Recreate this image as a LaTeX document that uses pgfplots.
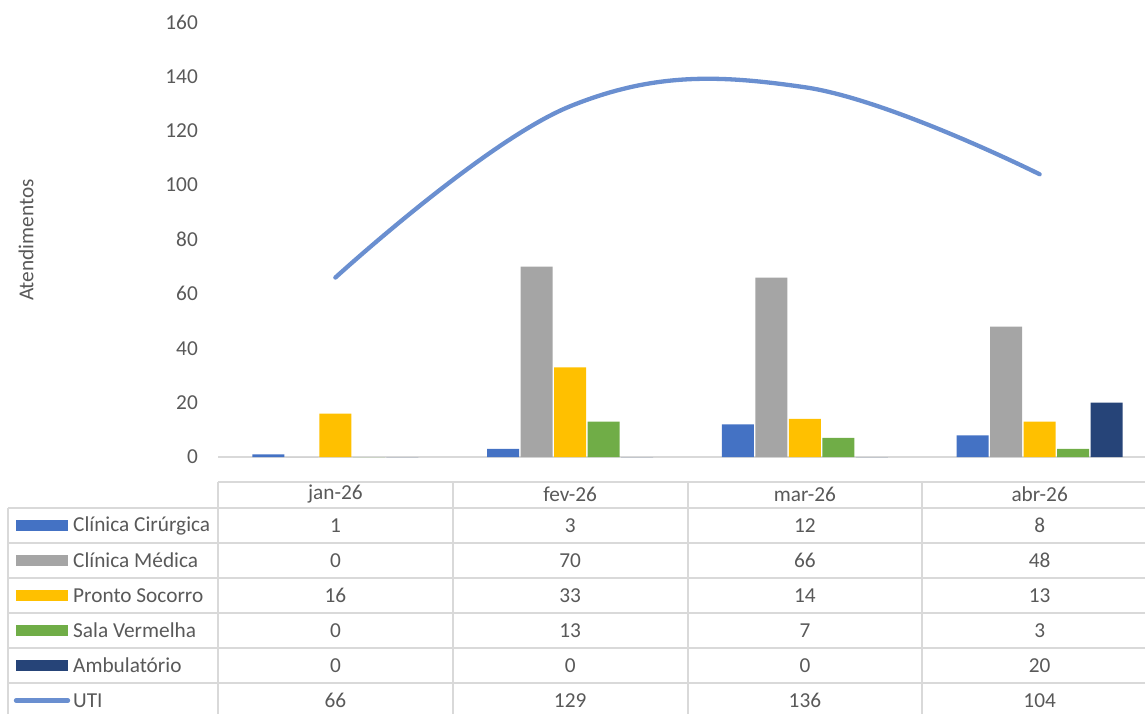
\documentclass[border=0pt]{standalone}
\usepackage{pgfplots}
\pgfplotsset{compat=1.18}
\usepackage{pgfplotstable}
\usepackage{fontspec}
\setmainfont{Carlito}

\definecolor{cBlue}{HTML}{4472C4}
\definecolor{cGray}{HTML}{A5A5A5}
\definecolor{cYellow}{HTML}{FFC000}
\definecolor{cGreen}{HTML}{70AD47}
\definecolor{cNavy}{HTML}{264478}
\definecolor{cLine}{HTML}{6A8FD0}
\definecolor{txt}{HTML}{595959}
\definecolor{gridc}{HTML}{D9D9D9}

\pgfplotstableread{
x cir med ps sv amb uti
0 1 0 16 0 0 66
1 3 70 33 13 0 129
2 12 66 14 7 0 136
3 8 48 13 3 20 104
}\data

\newcommand{\fs}{\fontsize{21.3}{25}\selectfont}

\begin{document}
\begin{tikzpicture}
\useasboundingbox (0pt,0pt) rectangle (1145pt,-714pt);
\begin{axis}[
  at={(218pt,-457pt)}, anchor=south west,
  scale only axis, width=939pt, height=435pt,
  xmin=-0.5, xmax=3.5, ymin=0, ymax=160,
  axis x line*=bottom, axis y line*=left,
  x axis line style={draw=gridc, line width=1.5pt, -},
  y axis line style={draw=none},
  xtick=\empty,
  ytick={0,20,...,160},
  major tick length=0pt,
  /pgf/number format/assume math mode=true,
  yticklabel style={font=\fs, text=txt, inner sep=0pt, xshift=-20pt},
  clip=false,
]
\addplot[ybar, bar width=0.1363, bar shift=-0.2854, fill=cBlue, draw=none] table[x=x,y=cir]{\data};
\addplot[ybar, bar width=0.1363, bar shift=-0.1427, fill=cGray, draw=none] table[x=x,y=med]{\data};
\addplot[ybar, bar width=0.1363, bar shift=0, fill=cYellow, draw=none] table[x=x,y=ps]{\data};
\addplot[ybar, bar width=0.1363, bar shift=0.1427, fill=cGreen, draw=none] table[x=x,y=sv]{\data};
\addplot[ybar, bar width=0.1363, bar shift=0.2854, fill=cNavy, draw=none] table[x=x,y=amb]{\data};
\addplot[cLine, line width=4.3pt, smooth, tension=0.65, line cap=round, line join=round] table[x=x,y=uti]{\data};
\end{axis}

\begin{scope}[x=1pt,y=-1pt]
  \node[rotate=90, font=\fs, text=txt] at (26,240) {Atendimentos};
  % table grid
  \draw[gridc, line width=1.5pt] (218,482) -- (1160,482);
  \foreach \yy in {508,543,578,613,648,683} {
    \draw[gridc, line width=1.5pt] (8,\yy) -- (1160,\yy);
  }
  \draw[gridc, line width=1.5pt] (8,508) -- (8,720);
  \foreach \xx in {218,453,688,922} {
    \draw[gridc, line width=1.5pt] (\xx,482) -- (\xx,720);
  }
  % header
  \foreach \lab [count=\i from 0] in {jan-26,fev-26,mar-26,abr-26} {
    \node[font=\fs, text=txt] at (335.4+234.75*\i,494) {\lab};
  }
  % row names and keys
  \foreach \nm/\cc [count=\r from 0] in {Clínica Cirúrgica/cBlue,Clínica Médica/cGray,Pronto Socorro/cYellow,Sala Vermelha/cGreen,Ambulatório/cNavy} {
    \fill[\cc] (16,525.5+35*\r-5.5) rectangle (68,525.5+35*\r+5.5);
    \node[font=\fs, text=txt, anchor=west, inner sep=0pt] at (73,525.5+35*\r) {\nm};
  }
  \draw[cLine, line width=4.3pt, line cap=round] (16,700.5) -- (68,700.5);
  \node[font=\fs, text=txt, anchor=west, inner sep=0pt] at (73,700.5) {UTI};
  % values
  \foreach \col [count=\r from 0] in {cir,med,ps,sv,amb,uti} {
    \foreach \i in {0,1,2,3} {
      \pgfplotstablegetelem{\i}{\col}\of\data
      \node[font=\fs, text=txt] at (335.4+234.75*\i,525.5+35*\r) {\pgfplotsretval};
    }
  }
\end{scope}
\end{tikzpicture}
\end{document}
